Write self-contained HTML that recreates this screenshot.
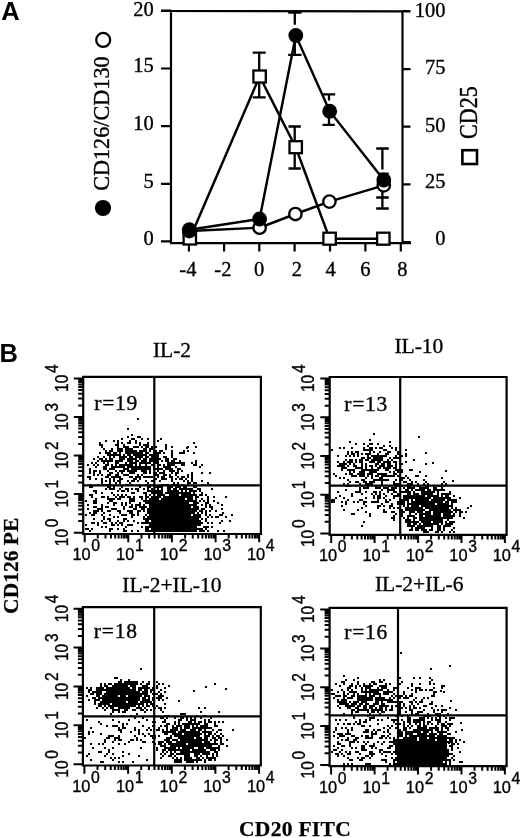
<!DOCTYPE html>
<html><head><meta charset="utf-8"><title>Figure</title>
<style>html,body{margin:0;padding:0;background:#fff;}svg{display:block;}</style></head>
<body><svg width="520" height="838" viewBox="0 0 520 838">
<text x="1.2" y="19.7" font-family="'Liberation Sans',Arial,sans-serif" font-weight="bold" font-size="25.5">A</text>
<path d="M161 10.9L410.5 11.3M171.0 10.8V244.2M402.5 10.8V244.2M171.0 243.2H411M161 10.6H171.0M161 68.5H171.0M161 126.2H171.0M161 183.8H171.0M161 241.4H171.0M402.5 11.2H410.5M402.5 69.2H410.5M402.5 126.7H410.5M402.5 184.4H410.5M402.5 242.0H410.5M188.9 243.2V251.5M224.1 243.2V251.5M259.3 243.2V251.5M294.6 243.2V251.5M330.0 243.2V251.5M365.4 243.2V251.5M400.8 243.2V251.5" stroke="#000" stroke-width="2.2" fill="none"/>
<text x="153.8" y="16.3" text-anchor="end" font-family="'Liberation Serif','Times New Roman',serif" font-size="20.5" stroke="#000" stroke-width="0.35">20</text>
<text x="153.8" y="72.4" text-anchor="end" font-family="'Liberation Serif','Times New Roman',serif" font-size="20.5" stroke="#000" stroke-width="0.35">15</text>
<text x="153.8" y="130.1" text-anchor="end" font-family="'Liberation Serif','Times New Roman',serif" font-size="20.5" stroke="#000" stroke-width="0.35">10</text>
<text x="153.8" y="187.7" text-anchor="end" font-family="'Liberation Serif','Times New Roman',serif" font-size="20.5" stroke="#000" stroke-width="0.35">5</text>
<text x="153.8" y="245.3" text-anchor="end" font-family="'Liberation Serif','Times New Roman',serif" font-size="20.5" stroke="#000" stroke-width="0.35">0</text>
<text x="445.6" y="17.0" text-anchor="end" font-family="'Liberation Serif','Times New Roman',serif" font-size="20.5" stroke="#000" stroke-width="0.35">100</text>
<text x="445.6" y="74.3" text-anchor="end" font-family="'Liberation Serif','Times New Roman',serif" font-size="20.5" stroke="#000" stroke-width="0.35">75</text>
<text x="445.6" y="132.0" text-anchor="end" font-family="'Liberation Serif','Times New Roman',serif" font-size="20.5" stroke="#000" stroke-width="0.35">50</text>
<text x="445.6" y="187.7" text-anchor="end" font-family="'Liberation Serif','Times New Roman',serif" font-size="20.5" stroke="#000" stroke-width="0.35">25</text>
<text x="445.6" y="245.3" text-anchor="end" font-family="'Liberation Serif','Times New Roman',serif" font-size="20.5" stroke="#000" stroke-width="0.35">0</text>
<text x="187.9" y="276.2" text-anchor="middle" font-family="'Liberation Serif','Times New Roman',serif" font-size="20.5" stroke="#000" stroke-width="0.35">-4</text>
<text x="222.9" y="276.2" text-anchor="middle" font-family="'Liberation Serif','Times New Roman',serif" font-size="20.5" stroke="#000" stroke-width="0.35">-2</text>
<text x="259.2" y="276.2" text-anchor="middle" font-family="'Liberation Serif','Times New Roman',serif" font-size="20.5" stroke="#000" stroke-width="0.35">0</text>
<text x="296.9" y="276.2" text-anchor="middle" font-family="'Liberation Serif','Times New Roman',serif" font-size="20.5" stroke="#000" stroke-width="0.35">2</text>
<text x="330.5" y="276.2" text-anchor="middle" font-family="'Liberation Serif','Times New Roman',serif" font-size="20.5" stroke="#000" stroke-width="0.35">4</text>
<text x="365.4" y="276.2" text-anchor="middle" font-family="'Liberation Serif','Times New Roman',serif" font-size="20.5" stroke="#000" stroke-width="0.35">6</text>
<text x="402.3" y="276.2" text-anchor="middle" font-family="'Liberation Serif','Times New Roman',serif" font-size="20.5" stroke="#000" stroke-width="0.35">8</text>
<path d="M259.2 52.6V72M252.7 52.6H265.7M259.2 80V97.3M252.7 97.3H265.7M294.8 12.5V24.8M288.2 12.6H301.5M294.8 40V54.8M288.2 54.8H301.5M294.7 126.5V142M288.5 126.5H300.8M294.7 152V168.5M288.5 168.5H300.8M329.0 94.4V100.5M323.0 94.4H335.2M329.0 116V124.8M322.5 124.8H334.8M382.4 148.5V169.5M376.2 148.5H388.8M382.4 190V208.5M376.2 197.5H388.8M376.2 208.5H388.8" stroke="#000" stroke-width="2.3" fill="none"/>
<path d="M189.8 238.5 L259.6 76.5 L295.7 147.2 L329.6 238.7 L383.3 238.7" stroke="#000" stroke-width="2.45" fill="none"/>
<path d="M189.3 231.0 L259.6 227.7 L295.4 214.0 L329.4 201.6 L383.8 185.4" stroke="#000" stroke-width="2.45" fill="none"/>
<path d="M189.3 229.7 L259.6 219.0 L295.8 35.5 L329.7 111.2 L383.8 180.0" stroke="#000" stroke-width="2.45" fill="none"/>
<rect x="183.60000000000002" y="232.5" width="12.4" height="12.0" fill="#fff" stroke="#000" stroke-width="2.3"/>
<rect x="253.40000000000003" y="70.5" width="12.4" height="12.0" fill="#fff" stroke="#000" stroke-width="2.3"/>
<rect x="289.5" y="141.2" width="12.4" height="12.0" fill="#fff" stroke="#000" stroke-width="2.3"/>
<rect x="323.40000000000003" y="232.7" width="12.4" height="12.0" fill="#fff" stroke="#000" stroke-width="2.3"/>
<rect x="377.1" y="232.7" width="12.4" height="12.0" fill="#fff" stroke="#000" stroke-width="2.3"/>
<circle cx="189.3" cy="231.0" r="6.2" fill="#fff" stroke="#000" stroke-width="2.35"/>
<circle cx="259.6" cy="227.7" r="6.2" fill="#fff" stroke="#000" stroke-width="2.35"/>
<circle cx="295.4" cy="214.0" r="6.2" fill="#fff" stroke="#000" stroke-width="2.35"/>
<circle cx="329.4" cy="201.6" r="6.2" fill="#fff" stroke="#000" stroke-width="2.35"/>
<circle cx="383.8" cy="185.4" r="6.2" fill="#fff" stroke="#000" stroke-width="2.35"/>
<circle cx="189.3" cy="229.7" r="7.4" fill="#000"/>
<circle cx="259.6" cy="219.0" r="7.4" fill="#000"/>
<circle cx="295.8" cy="35.5" r="7.4" fill="#000"/>
<circle cx="329.7" cy="111.2" r="7.4" fill="#000"/>
<circle cx="383.8" cy="180.0" r="7.4" fill="#000"/>
<path d="M378.3 173.4H388.8" stroke="#000" stroke-width="1.6"/>
<text transform="translate(109.4 190.8) rotate(-90)" font-family="'Liberation Serif','Times New Roman',serif" font-size="22.2" stroke="#000" stroke-width="0.35">CD126/CD130</text>
<circle cx="103.2" cy="39.9" r="7" fill="none" stroke="#000" stroke-width="2.2"/>
<circle cx="103" cy="208" r="8.1" fill="#000"/>
<text transform="translate(476.8 138.9) rotate(-90) scale(1,1.1)" font-family="'Liberation Serif','Times New Roman',serif" font-size="22" stroke="#000" stroke-width="0.35">CD25</text>
<rect x="462.4" y="150.2" width="14.6" height="13.8" fill="none" stroke="#000" stroke-width="2.6"/>
<text x="-0.4" y="362.4" font-family="'Liberation Sans',Arial,sans-serif" font-weight="bold" font-size="25.5">B</text>
<text transform="translate(18.3 613.9) rotate(-90)" font-family="'Liberation Serif','Times New Roman',serif" font-weight="bold" font-size="21.5" stroke="#000" stroke-width="0.25">CD126 PE</text>
<text x="239" y="836.3" font-family="'Liberation Serif','Times New Roman',serif" font-weight="bold" font-size="21.5" letter-spacing="0.3" stroke="#000" stroke-width="0.25">CD20 FITC</text>
<path d="M83.2 376.8H260.9V534.0H83.2ZM154.3 376.8V534.0M83.2 485.4H260.9" stroke="#000" stroke-width="2.2" fill="none"/>
<path d="M84.7 534.0v8.2M83.2 532.7h-9.4M97.8 534.0v4.6M83.2 521.1h-5M105.5 534.0v4.6M83.2 514.3h-5M111.0 534.0v4.6M83.2 509.5h-5M115.2 534.0v4.6M83.2 505.7h-5M118.6 534.0v4.6M83.2 502.7h-5M121.6 534.0v4.6M83.2 500.1h-5M124.1 534.0v4.6M83.2 497.9h-5M126.3 534.0v4.6M83.2 495.9h-5M128.3 534.0v8.2M83.2 494.1h-9.4M141.5 534.0v4.6M83.2 482.5h-5M149.1 534.0v4.6M83.2 475.7h-5M154.6 534.0v4.6M83.2 470.9h-5M158.8 534.0v4.6M83.2 467.2h-5M162.3 534.0v4.6M83.2 464.1h-5M165.2 534.0v4.6M83.2 461.5h-5M167.7 534.0v4.6M83.2 459.3h-5M170.0 534.0v4.6M83.2 457.3h-5M171.9 534.0v8.2M83.2 455.6h-9.4M185.1 534.0v4.6M83.2 443.9h-5M192.8 534.0v4.6M83.2 437.1h-5M198.2 534.0v4.6M83.2 432.3h-5M202.4 534.0v4.6M83.2 428.6h-5M205.9 534.0v4.6M83.2 425.5h-5M208.8 534.0v4.6M83.2 423.0h-5M211.3 534.0v4.6M83.2 420.7h-5M213.6 534.0v4.6M83.2 418.7h-5M215.6 534.0v8.2M83.2 417.0h-9.4M228.7 534.0v4.6M83.2 405.4h-5M236.4 534.0v4.6M83.2 398.6h-5M241.8 534.0v4.6M83.2 393.8h-5M246.1 534.0v4.6M83.2 390.0h-5M249.5 534.0v4.6M83.2 387.0h-5M252.4 534.0v4.6M83.2 384.4h-5M255.0 534.0v4.6M83.2 382.1h-5M257.2 534.0v4.6M83.2 380.2h-5M259.2 534.0v8.2M83.2 378.4h-9.4" stroke="#000" stroke-width="2" fill="none"/>
<text x="72.5" y="560.4" font-family="'Liberation Sans',Arial,sans-serif" font-size="16.4" stroke="#000" stroke-width="0.35">10<tspan dx="0.6" dy="-9" font-size="15.8">0</tspan></text>
<text x="116.1" y="560.4" font-family="'Liberation Sans',Arial,sans-serif" font-size="16.4" stroke="#000" stroke-width="0.35">10<tspan dx="0.6" dy="-9" font-size="15.8">1</tspan></text>
<text x="159.8" y="560.4" font-family="'Liberation Sans',Arial,sans-serif" font-size="16.4" stroke="#000" stroke-width="0.35">10<tspan dx="0.6" dy="-9" font-size="15.8">2</tspan></text>
<text x="203.4" y="560.4" font-family="'Liberation Sans',Arial,sans-serif" font-size="16.4" stroke="#000" stroke-width="0.35">10<tspan dx="0.6" dy="-9" font-size="15.8">3</tspan></text>
<text x="247.0" y="560.4" font-family="'Liberation Sans',Arial,sans-serif" font-size="16.4" stroke="#000" stroke-width="0.35">10<tspan dx="0.6" dy="-9" font-size="15.8">4</tspan></text>
<text transform="translate(67.8 546.2) rotate(-90) scale(1,1.18)" font-family="'Liberation Sans',Arial,sans-serif" font-size="15.5" stroke="#000" stroke-width="0.3">10<tspan dx="1.8" dy="-8.2">0</tspan></text>
<text transform="translate(67.8 507.6) rotate(-90) scale(1,1.18)" font-family="'Liberation Sans',Arial,sans-serif" font-size="15.5" stroke="#000" stroke-width="0.3">10<tspan dx="1.8" dy="-8.2">1</tspan></text>
<text transform="translate(67.8 469.1) rotate(-90) scale(1,1.18)" font-family="'Liberation Sans',Arial,sans-serif" font-size="15.5" stroke="#000" stroke-width="0.3">10<tspan dx="1.8" dy="-8.2">2</tspan></text>
<text transform="translate(67.8 430.5) rotate(-90) scale(1,1.18)" font-family="'Liberation Sans',Arial,sans-serif" font-size="15.5" stroke="#000" stroke-width="0.3">10<tspan dx="1.8" dy="-8.2">3</tspan></text>
<text transform="translate(67.8 391.9) rotate(-90) scale(1,1.18)" font-family="'Liberation Sans',Arial,sans-serif" font-size="15.5" stroke="#000" stroke-width="0.3">10<tspan dx="1.8" dy="-8.2">4</tspan></text>
<text x="172.0" y="357.3" text-anchor="middle" font-family="'Liberation Serif','Times New Roman',serif" font-size="21.5" stroke="#000" stroke-width="0.35">IL-2</text>
<text x="94.2" y="410.4" font-family="'Liberation Serif','Times New Roman',serif" font-size="21.5" letter-spacing="0.8" stroke="#000" stroke-width="0.35">r=19</text>
<path d="M329.7 377.0H506.6V534.8H329.7ZM400.2 377.0V534.8M329.7 485.6H506.6" stroke="#000" stroke-width="2.2" fill="none"/>
<path d="M331.2 534.8v8.2M329.7 533.5h-9.4M344.3 534.8v4.6M329.7 521.8h-5M351.9 534.8v4.6M329.7 515.0h-5M357.3 534.8v4.6M329.7 510.2h-5M361.6 534.8v4.6M329.7 506.4h-5M365.0 534.8v4.6M329.7 503.4h-5M367.9 534.8v4.6M329.7 500.8h-5M370.4 534.8v4.6M329.7 498.5h-5M372.6 534.8v4.6M329.7 496.5h-5M374.6 534.8v8.2M329.7 494.8h-9.4M387.7 534.8v4.6M329.7 483.1h-5M395.3 534.8v4.6M329.7 476.3h-5M400.8 534.8v4.6M329.7 471.5h-5M405.0 534.8v4.6M329.7 467.7h-5M408.4 534.8v4.6M329.7 464.6h-5M411.3 534.8v4.6M329.7 462.0h-5M413.8 534.8v4.6M329.7 459.8h-5M416.1 534.8v4.6M329.7 457.8h-5M418.1 534.8v8.2M329.7 456.1h-9.4M431.1 534.8v4.6M329.7 444.4h-5M438.8 534.8v4.6M329.7 437.6h-5M444.2 534.8v4.6M329.7 432.7h-5M448.4 534.8v4.6M329.7 429.0h-5M451.8 534.8v4.6M329.7 425.9h-5M454.7 534.8v4.6M329.7 423.3h-5M457.3 534.8v4.6M329.7 421.1h-5M459.5 534.8v4.6M329.7 419.1h-5M461.5 534.8v8.2M329.7 417.3h-9.4M474.5 534.8v4.6M329.7 405.7h-5M482.2 534.8v4.6M329.7 398.8h-5M487.6 534.8v4.6M329.7 394.0h-5M491.8 534.8v4.6M329.7 390.3h-5M495.3 534.8v4.6M329.7 387.2h-5M498.2 534.8v4.6M329.7 384.6h-5M500.7 534.8v4.6M329.7 382.4h-5M502.9 534.8v4.6M329.7 380.4h-5M504.9 534.8v8.2M329.7 378.6h-9.4" stroke="#000" stroke-width="2" fill="none"/>
<text x="319.0" y="561.2" font-family="'Liberation Sans',Arial,sans-serif" font-size="16.4" stroke="#000" stroke-width="0.35">10<tspan dx="0.6" dy="-9" font-size="15.8">0</tspan></text>
<text x="362.4" y="561.2" font-family="'Liberation Sans',Arial,sans-serif" font-size="16.4" stroke="#000" stroke-width="0.35">10<tspan dx="0.6" dy="-9" font-size="15.8">1</tspan></text>
<text x="405.9" y="561.2" font-family="'Liberation Sans',Arial,sans-serif" font-size="16.4" stroke="#000" stroke-width="0.35">10<tspan dx="0.6" dy="-9" font-size="15.8">2</tspan></text>
<text x="449.3" y="561.2" font-family="'Liberation Sans',Arial,sans-serif" font-size="16.4" stroke="#000" stroke-width="0.35">10<tspan dx="0.6" dy="-9" font-size="15.8">3</tspan></text>
<text x="492.7" y="561.2" font-family="'Liberation Sans',Arial,sans-serif" font-size="16.4" stroke="#000" stroke-width="0.35">10<tspan dx="0.6" dy="-9" font-size="15.8">4</tspan></text>
<text transform="translate(314.3 547.0) rotate(-90) scale(1,1.18)" font-family="'Liberation Sans',Arial,sans-serif" font-size="15.5" stroke="#000" stroke-width="0.3">10<tspan dx="1.8" dy="-8.2">0</tspan></text>
<text transform="translate(314.3 508.3) rotate(-90) scale(1,1.18)" font-family="'Liberation Sans',Arial,sans-serif" font-size="15.5" stroke="#000" stroke-width="0.3">10<tspan dx="1.8" dy="-8.2">1</tspan></text>
<text transform="translate(314.3 469.6) rotate(-90) scale(1,1.18)" font-family="'Liberation Sans',Arial,sans-serif" font-size="15.5" stroke="#000" stroke-width="0.3">10<tspan dx="1.8" dy="-8.2">2</tspan></text>
<text transform="translate(314.3 430.8) rotate(-90) scale(1,1.18)" font-family="'Liberation Sans',Arial,sans-serif" font-size="15.5" stroke="#000" stroke-width="0.3">10<tspan dx="1.8" dy="-8.2">3</tspan></text>
<text transform="translate(314.3 392.1) rotate(-90) scale(1,1.18)" font-family="'Liberation Sans',Arial,sans-serif" font-size="15.5" stroke="#000" stroke-width="0.3">10<tspan dx="1.8" dy="-8.2">4</tspan></text>
<text x="418.9" y="352.8" text-anchor="middle" font-family="'Liberation Serif','Times New Roman',serif" font-size="21.5" stroke="#000" stroke-width="0.35">IL-10</text>
<text x="344.2" y="410.8" font-family="'Liberation Serif','Times New Roman',serif" font-size="21.5" letter-spacing="0.8" stroke="#000" stroke-width="0.35">r=13</text>
<path d="M82.9 607.1H260.8V765.5H82.9ZM154.2 607.1V765.5M82.9 716.4H260.8" stroke="#000" stroke-width="2.2" fill="none"/>
<path d="M84.4 765.5v8.2M82.9 764.2h-9.4M97.5 765.5v4.6M82.9 752.5h-5M105.2 765.5v4.6M82.9 745.7h-5M110.7 765.5v4.6M82.9 740.8h-5M114.9 765.5v4.6M82.9 737.0h-5M118.4 765.5v4.6M82.9 733.9h-5M121.3 765.5v4.6M82.9 731.3h-5M123.8 765.5v4.6M82.9 729.1h-5M126.1 765.5v4.6M82.9 727.1h-5M128.1 765.5v8.2M82.9 725.3h-9.4M141.2 765.5v4.6M82.9 713.6h-5M148.9 765.5v4.6M82.9 706.8h-5M154.4 765.5v4.6M82.9 701.9h-5M158.6 765.5v4.6M82.9 698.2h-5M162.1 765.5v4.6M82.9 695.1h-5M165.0 765.5v4.6M82.9 692.5h-5M167.5 765.5v4.6M82.9 690.2h-5M169.8 765.5v4.6M82.9 688.2h-5M171.8 765.5v8.2M82.9 686.5h-9.4M184.9 765.5v4.6M82.9 674.7h-5M192.6 765.5v4.6M82.9 667.9h-5M198.0 765.5v4.6M82.9 663.0h-5M202.3 765.5v4.6M82.9 659.3h-5M205.7 765.5v4.6M82.9 656.2h-5M208.7 765.5v4.6M82.9 653.6h-5M211.2 765.5v4.6M82.9 651.3h-5M213.4 765.5v4.6M82.9 649.4h-5M215.4 765.5v8.2M82.9 647.6h-9.4M228.6 765.5v4.6M82.9 635.9h-5M236.3 765.5v4.6M82.9 629.0h-5M241.7 765.5v4.6M82.9 624.2h-5M246.0 765.5v4.6M82.9 620.4h-5M249.4 765.5v4.6M82.9 617.3h-5M252.3 765.5v4.6M82.9 614.7h-5M254.9 765.5v4.6M82.9 612.5h-5M257.1 765.5v4.6M82.9 610.5h-5M259.1 765.5v8.2M82.9 608.7h-9.4" stroke="#000" stroke-width="2" fill="none"/>
<text x="72.2" y="791.9" font-family="'Liberation Sans',Arial,sans-serif" font-size="16.4" stroke="#000" stroke-width="0.35">10<tspan dx="0.6" dy="-9" font-size="15.8">0</tspan></text>
<text x="115.9" y="791.9" font-family="'Liberation Sans',Arial,sans-serif" font-size="16.4" stroke="#000" stroke-width="0.35">10<tspan dx="0.6" dy="-9" font-size="15.8">1</tspan></text>
<text x="159.6" y="791.9" font-family="'Liberation Sans',Arial,sans-serif" font-size="16.4" stroke="#000" stroke-width="0.35">10<tspan dx="0.6" dy="-9" font-size="15.8">2</tspan></text>
<text x="203.2" y="791.9" font-family="'Liberation Sans',Arial,sans-serif" font-size="16.4" stroke="#000" stroke-width="0.35">10<tspan dx="0.6" dy="-9" font-size="15.8">3</tspan></text>
<text x="246.9" y="791.9" font-family="'Liberation Sans',Arial,sans-serif" font-size="16.4" stroke="#000" stroke-width="0.35">10<tspan dx="0.6" dy="-9" font-size="15.8">4</tspan></text>
<text transform="translate(67.5 777.7) rotate(-90) scale(1,1.18)" font-family="'Liberation Sans',Arial,sans-serif" font-size="15.5" stroke="#000" stroke-width="0.3">10<tspan dx="1.8" dy="-8.2">0</tspan></text>
<text transform="translate(67.5 738.8) rotate(-90) scale(1,1.18)" font-family="'Liberation Sans',Arial,sans-serif" font-size="15.5" stroke="#000" stroke-width="0.3">10<tspan dx="1.8" dy="-8.2">1</tspan></text>
<text transform="translate(67.5 700.0) rotate(-90) scale(1,1.18)" font-family="'Liberation Sans',Arial,sans-serif" font-size="15.5" stroke="#000" stroke-width="0.3">10<tspan dx="1.8" dy="-8.2">2</tspan></text>
<text transform="translate(67.5 661.1) rotate(-90) scale(1,1.18)" font-family="'Liberation Sans',Arial,sans-serif" font-size="15.5" stroke="#000" stroke-width="0.3">10<tspan dx="1.8" dy="-8.2">3</tspan></text>
<text transform="translate(67.5 622.2) rotate(-90) scale(1,1.18)" font-family="'Liberation Sans',Arial,sans-serif" font-size="15.5" stroke="#000" stroke-width="0.3">10<tspan dx="1.8" dy="-8.2">4</tspan></text>
<text x="171.9" y="592.0" text-anchor="middle" font-family="'Liberation Serif','Times New Roman',serif" font-size="21.5" stroke="#000" stroke-width="0.35">IL-2+IL-10</text>
<text x="93.8" y="638.1" font-family="'Liberation Serif','Times New Roman',serif" font-size="21.5" letter-spacing="0.8" stroke="#000" stroke-width="0.35">r=18</text>
<path d="M329.6 607.9H506.6V766.2H329.6ZM398.0 607.9V766.2M329.6 715.3H506.6" stroke="#000" stroke-width="2.2" fill="none"/>
<path d="M331.1 766.2v8.2M329.6 764.9h-9.4M344.2 766.2v4.6M329.6 753.2h-5M351.8 766.2v4.6M329.6 746.4h-5M357.3 766.2v4.6M329.6 741.5h-5M361.5 766.2v4.6M329.6 737.7h-5M364.9 766.2v4.6M329.6 734.7h-5M367.8 766.2v4.6M329.6 732.1h-5M370.3 766.2v4.6M329.6 729.8h-5M372.6 766.2v4.6M329.6 727.8h-5M374.6 766.2v8.2M329.6 726.1h-9.4M387.6 766.2v4.6M329.6 714.4h-5M395.3 766.2v4.6M329.6 707.5h-5M400.7 766.2v4.6M329.6 702.7h-5M404.9 766.2v4.6M329.6 698.9h-5M408.4 766.2v4.6M329.6 695.8h-5M411.3 766.2v4.6M329.6 693.2h-5M413.8 766.2v4.6M329.6 691.0h-5M416.0 766.2v4.6M329.6 689.0h-5M418.0 766.2v8.2M329.6 687.2h-9.4M431.1 766.2v4.6M329.6 675.5h-5M438.7 766.2v4.6M329.6 668.7h-5M444.2 766.2v4.6M329.6 663.8h-5M448.4 766.2v4.6M329.6 660.0h-5M451.8 766.2v4.6M329.6 657.0h-5M454.7 766.2v4.6M329.6 654.4h-5M457.2 766.2v4.6M329.6 652.1h-5M459.5 766.2v4.6M329.6 650.1h-5M461.5 766.2v8.2M329.6 648.4h-9.4M474.5 766.2v4.6M329.6 636.7h-5M482.2 766.2v4.6M329.6 629.8h-5M487.6 766.2v4.6M329.6 625.0h-5M491.8 766.2v4.6M329.6 621.2h-5M495.3 766.2v4.6M329.6 618.1h-5M498.2 766.2v4.6M329.6 615.5h-5M500.7 766.2v4.6M329.6 613.3h-5M502.9 766.2v4.6M329.6 611.3h-5M504.9 766.2v8.2M329.6 609.5h-9.4" stroke="#000" stroke-width="2" fill="none"/>
<text x="318.9" y="792.6" font-family="'Liberation Sans',Arial,sans-serif" font-size="16.4" stroke="#000" stroke-width="0.35">10<tspan dx="0.6" dy="-9" font-size="15.8">0</tspan></text>
<text x="362.4" y="792.6" font-family="'Liberation Sans',Arial,sans-serif" font-size="16.4" stroke="#000" stroke-width="0.35">10<tspan dx="0.6" dy="-9" font-size="15.8">1</tspan></text>
<text x="405.8" y="792.6" font-family="'Liberation Sans',Arial,sans-serif" font-size="16.4" stroke="#000" stroke-width="0.35">10<tspan dx="0.6" dy="-9" font-size="15.8">2</tspan></text>
<text x="449.3" y="792.6" font-family="'Liberation Sans',Arial,sans-serif" font-size="16.4" stroke="#000" stroke-width="0.35">10<tspan dx="0.6" dy="-9" font-size="15.8">3</tspan></text>
<text x="492.7" y="792.6" font-family="'Liberation Sans',Arial,sans-serif" font-size="16.4" stroke="#000" stroke-width="0.35">10<tspan dx="0.6" dy="-9" font-size="15.8">4</tspan></text>
<text transform="translate(314.2 778.4) rotate(-90) scale(1,1.18)" font-family="'Liberation Sans',Arial,sans-serif" font-size="15.5" stroke="#000" stroke-width="0.3">10<tspan dx="1.8" dy="-8.2">0</tspan></text>
<text transform="translate(314.2 739.6) rotate(-90) scale(1,1.18)" font-family="'Liberation Sans',Arial,sans-serif" font-size="15.5" stroke="#000" stroke-width="0.3">10<tspan dx="1.8" dy="-8.2">1</tspan></text>
<text transform="translate(314.2 700.7) rotate(-90) scale(1,1.18)" font-family="'Liberation Sans',Arial,sans-serif" font-size="15.5" stroke="#000" stroke-width="0.3">10<tspan dx="1.8" dy="-8.2">2</tspan></text>
<text transform="translate(314.2 661.9) rotate(-90) scale(1,1.18)" font-family="'Liberation Sans',Arial,sans-serif" font-size="15.5" stroke="#000" stroke-width="0.3">10<tspan dx="1.8" dy="-8.2">3</tspan></text>
<text transform="translate(314.2 623.0) rotate(-90) scale(1,1.18)" font-family="'Liberation Sans',Arial,sans-serif" font-size="15.5" stroke="#000" stroke-width="0.3">10<tspan dx="1.8" dy="-8.2">4</tspan></text>
<text x="419.2" y="590.8" text-anchor="middle" font-family="'Liberation Serif','Times New Roman',serif" font-size="21.5" stroke="#000" stroke-width="0.35">IL-2+IL-6</text>
<text x="344.2" y="638.5" font-family="'Liberation Serif','Times New Roman',serif" font-size="21.5" letter-spacing="0.8" stroke="#000" stroke-width="0.35">r=16</text>
<path d="M127 429h2M131 435h2M127 437h2M137 437h4M121 439h2M131 439h4M141 439h2M147 439h2M105 441h2M113 441h2M117 441h2M129 441h2M135 441h2M157 441h2M99 443h2M117 443h2M121 443h2M127 443h4M135 443h2M139 443h2M147 443h2M193 443h2M99 445h4M115 445h4M123 445h2M139 445h2M143 445h6M165 445h2M101 447h2M117 447h2M123 447h6M133 447h6M141 447h2M145 447h4M151 447h2M155 447h2M165 447h2M171 447h2M187 447h2M195 447h2M103 449h2M111 449h2M117 449h6M125 449h8M143 449h4M149 449h4M165 449h2M105 451h2M109 451h4M117 451h6M125 451h12M139 451h8M149 451h2M153 451h4M159 451h4M171 451h2M183 451h2M187 451h2M99 453h2M105 453h6M113 453h4M119 453h2M125 453h18M145 453h4M153 453h8M163 453h2M171 453h2M179 453h6M193 453h2M107 455h14M123 455h2M127 455h4M133 455h14M149 455h10M171 455h2M97 457h2M103 457h2M109 457h2M113 457h2M119 457h8M129 457h4M135 457h8M145 457h4M151 457h8M163 457h4M171 457h2M93 459h2M99 459h4M105 459h2M109 459h4M119 459h6M127 459h10M139 459h2M143 459h4M149 459h12M165 459h4M173 459h4M97 461h2M101 461h12M115 461h8M127 461h6M135 461h4M141 461h6M149 461h10M161 461h2M165 461h4M171 461h4M179 461h2M195 461h2M91 463h2M95 463h2M103 463h2M107 463h2M115 463h4M125 463h2M129 463h8M139 463h12M153 463h6M167 463h18M191 463h2M195 463h2M87 465h2M93 465h2M97 465h2M105 465h4M111 465h2M115 465h2M119 465h14M135 465h2M139 465h2M145 465h2M151 465h4M157 465h4M163 465h2M167 465h8M181 465h4M193 465h4M201 465h2M95 467h2M103 467h4M111 467h14M127 467h24M153 467h2M157 467h2M163 467h8M175 467h2M199 467h2M89 469h2M103 469h4M109 469h6M123 469h6M131 469h20M153 469h10M165 469h8M177 469h4M89 471h2M93 471h4M99 471h2M107 471h2M115 471h2M119 471h6M127 471h10M141 471h6M149 471h2M157 471h2M163 471h2M169 471h6M177 471h2M181 471h2M89 473h2M93 473h2M99 473h2M109 473h4M117 473h2M121 473h2M129 473h6M143 473h4M149 473h2M153 473h4M159 473h6M171 473h2M175 473h4M191 473h2M201 473h2M209 473h2M93 475h2M97 475h2M101 475h2M107 475h4M115 475h4M123 475h6M137 475h2M141 475h2M155 475h4M163 475h4M169 475h2M175 475h2M187 475h2M191 475h2M87 477h4M105 477h4M111 477h10M129 477h4M135 477h6M143 477h10M157 477h2M161 477h4M169 477h4M177 477h2M181 477h4M187 477h2M191 477h2M89 479h2M95 479h2M101 479h2M109 479h2M113 479h2M119 479h4M133 479h4M139 479h2M155 479h2M161 479h6M171 479h2M175 479h2M179 479h4M185 479h2M191 479h2M101 481h2M105 481h2M109 481h2M113 481h2M117 481h4M127 481h2M131 481h4M137 481h2M145 481h2M151 481h4M159 481h2M171 481h2M183 481h2M187 481h2M191 481h2M201 481h2M101 483h2M109 483h2M115 483h2M119 483h2M129 483h2M147 483h2M173 483h2M177 483h2M187 483h4M193 483h4M207 483h2M89 485h2M97 485h2M103 485h8M115 485h2M125 485h4M131 485h2M139 485h2M145 485h2M149 485h2M153 485h2M161 485h8M171 485h8M181 485h2M187 485h2M203 485h2M209 485h2M89 487h4M107 487h4M113 487h2M121 487h2M139 487h2M147 487h4M155 487h8M167 487h6M175 487h6M183 487h4M193 487h4M105 489h2M109 489h6M119 489h2M125 489h4M131 489h2M135 489h4M143 489h2M147 489h2M151 489h2M157 489h2M161 489h2M167 489h4M173 489h4M179 489h14M197 489h4M211 489h2M93 491h4M117 491h2M121 491h4M127 491h2M137 491h2M147 491h16M167 491h12M181 491h2M185 491h2M189 491h8M199 491h2M95 493h2M101 493h2M111 493h2M131 493h4M143 493h4M151 493h12M165 493h26M193 493h2M201 493h2M89 495h4M113 495h2M117 495h2M121 495h2M125 495h2M145 495h2M149 495h2M153 495h2M157 495h8M169 495h10M181 495h16M199 495h4M205 495h2M91 497h2M101 497h4M107 497h2M115 497h2M119 497h6M127 497h4M133 497h2M139 497h4M145 497h4M151 497h10M163 497h30M195 497h4M207 497h2M213 497h2M225 497h2M95 499h2M107 499h8M117 499h4M129 499h6M141 499h2M145 499h2M149 499h10M161 499h24M187 499h6M195 499h2M201 499h2M207 499h2M85 501h2M93 501h4M109 501h4M129 501h6M143 501h54M199 501h2M203 501h2M207 501h2M93 503h4M107 503h2M113 503h4M121 503h2M125 503h2M129 503h2M139 503h2M145 503h44M193 503h6M205 503h4M217 503h2M87 505h2M101 505h2M113 505h2M121 505h2M125 505h2M131 505h2M135 505h6M143 505h2M149 505h48M201 505h2M205 505h2M209 505h2M221 505h2M93 507h4M101 507h2M105 507h4M123 507h2M129 507h4M135 507h2M139 507h8M149 507h42M193 507h6M205 507h2M209 507h4M87 509h2M97 509h6M111 509h6M123 509h2M133 509h4M141 509h4M147 509h52M201 509h4M211 509h2M221 509h2M93 511h6M101 511h2M107 511h4M117 511h4M127 511h6M137 511h4M143 511h2M147 511h50M199 511h4M205 511h2M209 511h2M215 511h2M89 513h2M93 513h4M103 513h2M119 513h2M129 513h4M137 513h2M147 513h48M197 513h2M201 513h2M205 513h2M85 515h2M91 515h4M101 515h2M109 515h2M121 515h6M131 515h4M137 515h2M145 515h2M149 515h42M193 515h8M205 515h2M209 515h2M219 515h4M231 515h2M103 517h2M113 517h2M117 517h2M131 517h2M143 517h2M147 517h54M207 517h2M211 517h2M215 517h4M225 517h2M93 519h2M103 519h2M107 519h4M123 519h4M143 519h56M201 519h2M205 519h2M101 521h2M109 521h2M117 521h2M123 521h2M127 521h2M133 521h2M145 521h4M151 521h50M205 521h2M221 521h2M91 523h4M97 523h2M103 523h4M111 523h2M115 523h2M119 523h4M137 523h2M141 523h62M207 523h2M211 523h2M219 523h2M85 525h2M97 525h2M111 525h4M117 525h2M121 525h2M127 525h6M149 525h52M101 527h2M105 527h2M125 527h2M141 527h2M145 527h52M203 527h6M211 527h2M85 529h4M91 529h2M109 529h4M117 529h2M123 529h2M145 529h4M151 529h52M205 529h2M89 531h2M109 531h2M123 531h4M131 531h2M137 531h2M145 531h52M199 531h6M207 531h2M217 531h2M223 531h2M137 419h2M222 513h2M229 521h2M213 501h2M186 448h2M160 439h2" stroke="#000" stroke-width="2" fill="none"/>
<path d="M373 434h2M369 440h2M349 442h2M389 442h2M355 444h2M363 444h2M369 444h4M377 444h2M367 446h2M383 446h2M389 446h2M339 448h2M343 448h2M351 448h2M363 448h2M369 448h4M375 448h2M379 448h4M391 448h2M395 448h2M331 450h2M363 450h10M383 450h4M395 450h2M405 450h2M347 452h2M351 452h2M355 452h4M369 452h2M373 452h2M379 452h2M387 452h4M397 452h4M347 454h2M351 454h4M357 454h2M361 454h2M365 454h6M377 454h2M385 454h4M397 454h2M405 454h2M337 456h2M345 456h2M349 456h2M353 456h2M357 456h2M367 456h2M371 456h16M395 456h2M401 456h2M405 456h2M361 458h4M367 458h4M373 458h10M389 458h2M393 458h8M345 460h2M349 460h4M355 460h2M359 460h4M365 460h4M371 460h12M387 460h2M391 460h2M399 460h2M413 460h2M337 462h2M343 462h2M347 462h6M355 462h2M359 462h4M369 462h6M377 462h4M383 462h8M393 462h4M405 462h2M339 464h8M349 464h2M353 464h2M361 464h2M365 464h2M375 464h4M381 464h4M387 464h4M395 464h2M399 464h4M425 464h2M337 466h8M347 466h2M353 466h4M361 466h2M365 466h2M369 466h4M375 466h2M379 466h6M387 466h6M395 466h2M341 468h6M355 468h8M365 468h2M371 468h2M377 468h4M383 468h8M393 468h4M341 470h2M347 470h8M361 470h18M385 470h4M395 470h8M409 470h4M349 472h2M353 472h2M359 472h6M369 472h8M389 472h2M393 472h2M397 472h2M401 472h2M419 472h2M333 474h2M345 474h2M349 474h4M357 474h8M367 474h6M377 474h10M393 474h4M335 476h2M351 476h6M359 476h6M367 476h2M371 476h2M375 476h4M381 476h14M397 476h2M405 476h2M415 476h4M425 476h2M339 478h2M343 478h2M365 478h2M371 478h2M379 478h4M399 478h6M407 478h2M441 478h2M347 480h2M361 480h4M373 480h16M395 480h2M399 480h4M409 480h2M423 480h2M349 482h2M355 482h4M363 482h4M369 482h6M381 482h2M393 482h2M403 482h4M411 482h2M415 482h2M425 482h2M443 482h2M343 484h2M347 484h2M359 484h2M365 484h8M381 484h2M393 484h8M407 484h6M417 484h2M423 484h2M427 484h2M441 484h2M445 484h2M345 486h6M355 486h2M361 486h2M367 486h2M375 486h2M379 486h2M389 486h2M395 486h8M407 486h4M413 486h2M417 486h4M425 486h4M433 486h2M437 486h4M443 486h2M359 488h2M363 488h6M375 488h6M383 488h6M391 488h6M399 488h2M403 488h2M407 488h8M419 488h10M433 488h4M441 488h2M345 490h2M359 490h2M381 490h2M387 490h8M399 490h2M405 490h4M411 490h2M415 490h10M427 490h4M433 490h12M337 492h2M355 492h6M365 492h2M373 492h4M379 492h2M387 492h2M393 492h4M401 492h10M413 492h2M421 492h14M437 492h2M449 492h2M351 494h2M361 494h2M371 494h2M375 494h2M379 494h2M383 494h2M391 494h2M397 494h4M407 494h4M413 494h6M421 494h12M437 494h2M441 494h10M339 496h2M351 496h2M373 496h2M377 496h4M385 496h2M393 496h8M403 496h22M427 496h12M441 496h2M445 496h4M453 496h2M335 498h2M343 498h2M365 498h2M373 498h2M377 498h4M383 498h2M393 498h2M403 498h28M433 498h18M459 498h2M331 500h4M347 500h2M359 500h4M377 500h2M385 500h2M389 500h2M399 500h10M411 500h2M415 500h14M431 500h14M447 500h10M331 502h4M341 502h2M345 502h2M353 502h2M357 502h2M363 502h4M371 502h8M385 502h4M397 502h8M407 502h2M411 502h32M445 502h4M451 502h6M345 504h2M363 504h2M381 504h2M391 504h2M397 504h2M401 504h4M407 504h28M437 504h12M451 504h2M341 506h2M365 506h2M377 506h4M383 506h2M389 506h4M403 506h2M407 506h2M411 506h8M421 506h32M361 508h2M377 508h2M389 508h2M393 508h2M397 508h2M405 508h18M425 508h24M451 508h2M455 508h2M467 508h2M343 510h2M357 510h2M383 510h2M399 510h4M405 510h20M429 510h22M453 510h8M365 512h2M383 512h4M391 512h4M399 512h6M409 512h6M417 512h6M425 512h6M433 512h20M455 512h2M459 512h4M465 512h2M351 514h4M369 514h2M395 514h2M401 514h2M409 514h2M415 514h2M419 514h12M433 514h8M443 514h8M453 514h2M459 514h2M369 516h2M393 516h2M401 516h2M407 516h8M419 516h4M425 516h16M443 516h12M459 516h2M391 518h4M403 518h2M407 518h2M413 518h4M419 518h34M463 518h2M393 520h2M405 520h6M413 520h2M419 520h24M447 520h2M363 522h2M405 522h14M421 522h10M433 522h10M445 522h2M449 522h6M407 524h4M413 524h4M419 524h2M423 524h16M441 524h2M445 524h8M361 526h2M407 526h8M417 526h16M437 526h4M443 526h8M411 528h2M415 528h10M431 528h2M437 528h4M443 528h2M453 528h2M409 530h4M415 530h4M421 530h6M429 530h4M437 530h4M443 530h2M451 530h2M423 532h6M435 532h4M441 532h2M449 532h2M453 532h2M418 437h2M425 453h2M432 463h2M445 471h2M452 481h2M470 506h2" stroke="#000" stroke-width="2" fill="none"/>
<path d="M114 678h4M120 680h2M128 680h2M118 682h4M124 682h14M142 682h2M148 682h2M156 682h2M100 684h2M104 684h2M108 684h4M114 684h24M140 684h2M146 684h4M158 684h2M162 684h2M100 686h2M104 686h4M112 686h16M130 686h6M142 686h6M156 686h2M168 686h2M86 688h2M90 688h2M96 688h8M106 688h24M132 688h4M138 688h12M152 688h2M156 688h2M164 688h2M88 690h4M96 690h40M138 690h4M144 690h4M150 690h4M160 690h2M88 692h2M92 692h10M106 692h34M142 692h6M150 692h2M158 692h2M164 692h2M90 694h4M96 694h6M104 694h44M152 694h6M160 694h2M86 696h2M96 696h4M102 696h16M120 696h6M128 696h14M144 696h6M158 696h6M92 698h4M98 698h42M142 698h4M148 698h2M152 698h2M156 698h6M166 698h2M88 700h2M94 700h6M102 700h38M142 700h8M152 700h2M158 700h2M162 700h2M94 702h2M100 702h26M128 702h10M140 702h12M94 704h2M98 704h12M112 704h32M146 704h2M150 704h4M164 704h2M98 706h4M104 706h2M108 706h28M138 706h2M142 706h2M146 706h4M152 706h2M156 706h2M96 708h2M102 708h2M106 708h2M110 708h4M118 708h12M136 708h6M144 708h2M154 708h2M158 708h4M164 708h2M198 708h2M204 708h2M104 710h2M112 710h8M124 710h4M132 710h4M140 710h4M146 710h2M150 710h2M160 710h2M112 712h2M118 712h2M122 712h4M144 712h2M162 712h2M200 712h2M218 712h2M110 714h2M136 714h2M180 714h6M122 716h2M130 716h2M164 716h6M196 716h2M204 716h2M134 718h2M142 718h2M160 718h4M166 718h2M174 718h2M180 718h4M186 718h2M190 718h2M194 718h2M200 718h2M210 718h2M86 720h2M112 720h2M128 720h2M146 720h2M164 720h2M178 720h4M186 720h2M190 720h6M204 720h2M208 720h2M98 722h2M118 722h2M138 722h2M152 722h4M162 722h4M174 722h2M178 722h2M188 722h4M194 722h2M198 722h4M204 722h2M208 722h4M214 722h2M218 722h2M222 722h2M100 724h2M122 724h2M126 724h2M166 724h4M174 724h2M178 724h2M182 724h18M204 724h4M214 724h2M106 726h2M112 726h6M122 726h2M142 726h2M152 726h2M160 726h2M164 726h4M172 726h2M176 726h6M184 726h6M192 726h2M196 726h2M200 726h8M214 726h4M90 728h2M118 728h2M122 728h4M134 728h2M148 728h2M158 728h2M166 728h2M172 728h6M180 728h2M184 728h6M192 728h20M118 730h4M134 730h2M138 730h2M146 730h2M150 730h2M156 730h4M162 730h2M166 730h2M170 730h8M180 730h6M190 730h6M198 730h4M204 730h2M212 730h2M218 730h4M232 730h2M88 732h2M92 732h2M120 732h2M130 732h2M138 732h2M162 732h14M178 732h22M202 732h10M216 732h2M88 734h2M100 734h2M138 734h2M142 734h2M148 734h2M164 734h4M172 734h10M184 734h18M204 734h2M208 734h4M214 734h2M220 734h2M108 736h6M118 736h2M134 736h2M144 736h2M150 736h6M158 736h2M170 736h2M174 736h26M204 736h6M212 736h2M216 736h4M222 736h2M84 738h2M106 738h4M114 738h6M136 738h2M152 738h4M166 738h6M178 738h16M196 738h6M204 738h4M212 738h4M218 738h4M104 740h2M114 740h2M118 740h4M130 740h4M136 740h2M140 740h2M164 740h6M172 740h6M180 740h28M210 740h2M214 740h4M220 740h2M226 740h2M104 742h2M112 742h2M128 742h2M142 742h4M152 742h2M158 742h6M166 742h6M176 742h26M204 742h6M214 742h2M220 742h2M90 744h2M98 744h2M102 744h2M118 744h2M124 744h2M154 744h2M158 744h4M164 744h2M168 744h18M188 744h30M220 744h4M160 746h6M170 746h42M218 746h2M226 746h2M92 748h2M104 748h2M112 748h2M140 748h2M156 748h2M164 748h12M178 748h2M182 748h12M198 748h6M206 748h14M108 750h2M156 750h2M162 750h4M168 750h22M192 750h14M210 750h6M218 750h2M98 752h4M108 752h2M122 752h2M162 752h2M166 752h2M170 752h2M174 752h2M180 752h30M214 752h4M88 754h2M106 754h2M112 754h2M128 754h2M160 754h2M164 754h2M170 754h4M176 754h14M194 754h6M202 754h8M212 754h2M216 754h2M86 756h2M104 756h2M122 756h2M138 756h2M162 756h2M168 756h4M174 756h2M184 756h6M194 756h4M200 756h2M206 756h2M212 756h2M216 756h2M110 758h2M114 758h2M118 758h2M160 758h2M172 758h2M176 758h2M180 758h2M184 758h8M196 758h4M202 758h2M206 758h10M90 760h2M112 760h2M146 760h2M174 760h8M184 760h18M204 760h2M208 760h4M214 760h2M100 762h4M118 762h2M122 762h2M132 762h2M174 762h8M186 762h8M196 762h2M204 762h2M193 691h2M205 687h2M214 684h2M225 689h2M178 701h2M140 669h2" stroke="#000" stroke-width="2" fill="none"/>
<path d="M449 666h2M343 676h2M357 678h2M399 678h2M413 678h2M419 678h2M429 678h2M345 680h2M353 680h2M379 680h2M383 680h2M431 680h2M341 682h4M357 682h2M371 682h4M379 682h4M401 682h2M429 682h2M335 684h2M343 684h2M351 684h2M357 684h2M363 684h2M369 684h2M373 684h4M385 684h2M389 684h2M399 684h2M411 684h2M419 684h2M429 684h2M433 684h2M339 686h2M349 686h4M355 686h2M359 686h2M363 686h10M379 686h8M411 686h2M441 686h4M347 688h4M355 688h2M361 688h2M365 688h6M377 688h2M381 688h6M393 688h6M407 688h2M415 688h6M433 688h2M441 688h2M331 690h2M341 690h2M347 690h2M351 690h2M361 690h2M365 690h2M369 690h14M387 690h2M393 690h2M411 690h2M415 690h2M419 690h4M425 690h2M429 690h4M337 692h2M343 692h2M349 692h8M361 692h18M383 692h10M403 692h2M415 692h2M433 692h4M443 692h2M331 694h4M343 694h2M347 694h2M353 694h2M357 694h2M365 694h2M369 694h2M373 694h8M383 694h6M393 694h2M397 694h2M403 694h2M411 694h2M433 694h2M335 696h6M343 696h4M351 696h4M357 696h10M369 696h6M379 696h2M391 696h2M395 696h8M405 696h2M409 696h4M431 696h4M333 698h2M343 698h2M347 698h6M357 698h16M375 698h10M389 698h2M393 698h2M399 698h2M403 698h6M415 698h2M423 698h2M427 698h2M337 700h2M341 700h6M357 700h16M375 700h18M413 700h2M421 700h2M337 702h10M349 702h2M353 702h6M361 702h6M375 702h4M381 702h2M387 702h16M409 702h4M415 702h2M419 702h4M431 702h2M339 704h10M351 704h6M359 704h4M365 704h4M373 704h6M381 704h4M399 704h2M403 704h2M411 704h2M417 704h2M429 704h4M337 706h2M345 706h10M357 706h4M363 706h4M369 706h6M379 706h10M391 706h2M395 706h2M399 706h2M403 706h2M409 706h2M413 706h2M423 706h4M435 706h2M441 706h2M339 708h2M347 708h4M355 708h4M363 708h4M369 708h4M375 708h2M379 708h4M385 708h2M391 708h2M397 708h6M405 708h2M409 708h2M413 708h4M419 708h2M431 708h2M449 708h2M351 710h4M357 710h12M371 710h12M385 710h2M389 710h4M399 710h2M409 710h4M423 710h2M433 710h2M437 710h2M441 710h6M455 710h2M351 712h2M355 712h4M367 712h2M371 712h4M377 712h2M381 712h4M397 712h4M405 712h2M411 712h2M417 712h6M433 712h2M441 712h2M343 714h2M351 714h2M369 714h2M379 714h2M399 714h2M411 714h2M415 714h4M427 714h2M435 714h6M447 714h2M353 716h2M367 716h2M373 716h2M395 716h4M401 716h2M407 716h2M423 716h8M437 716h4M443 716h2M353 718h2M369 718h6M387 718h2M407 718h4M419 718h6M427 718h2M431 718h2M435 718h2M439 718h2M445 718h2M449 718h6M335 720h2M339 720h2M345 720h2M359 720h2M365 720h2M369 720h2M377 720h2M381 720h2M391 720h6M401 720h2M407 720h4M413 720h12M431 720h2M435 720h6M449 720h2M355 722h2M359 722h2M363 722h4M393 722h2M403 722h2M407 722h4M413 722h8M423 722h2M427 722h4M437 722h4M445 722h2M337 724h2M343 724h2M347 724h4M353 724h2M357 724h4M377 724h2M395 724h2M399 724h2M403 724h2M409 724h2M415 724h2M419 724h2M423 724h2M427 724h2M431 724h2M437 724h2M441 724h4M447 724h6M361 726h4M369 726h2M387 726h2M391 726h2M403 726h2M407 726h2M411 726h2M417 726h4M423 726h4M435 726h2M441 726h6M449 726h2M335 728h2M341 728h2M345 728h2M351 728h2M383 728h2M389 728h2M395 728h4M403 728h4M409 728h2M417 728h10M429 728h10M441 728h2M445 728h4M335 730h2M347 730h2M351 730h2M365 730h4M373 730h2M377 730h4M387 730h2M397 730h4M403 730h4M413 730h20M435 730h4M441 730h2M447 730h2M461 730h2M333 732h2M347 732h2M363 732h6M371 732h2M375 732h2M383 732h2M387 732h2M399 732h4M405 732h16M423 732h6M431 732h2M437 732h10M455 732h2M337 734h6M345 734h6M371 734h6M389 734h2M399 734h4M405 734h8M417 734h10M429 734h8M439 734h4M447 734h4M333 736h2M339 736h6M351 736h4M361 736h2M365 736h4M371 736h2M381 736h4M387 736h2M399 736h4M405 736h2M409 736h26M437 736h10M337 738h2M347 738h2M355 738h4M365 738h8M379 738h4M385 738h2M389 738h2M393 738h2M403 738h14M419 738h8M429 738h26M341 740h2M345 740h4M353 740h4M393 740h24M419 740h16M437 740h10M449 740h4M455 740h2M459 740h2M337 742h2M349 742h6M357 742h2M363 742h2M367 742h2M377 742h2M383 742h2M389 742h64M455 742h2M463 742h2M337 744h4M349 744h2M365 744h2M373 744h2M381 744h2M393 744h54M451 744h4M457 744h2M333 746h2M341 746h4M349 746h2M361 746h4M369 746h6M389 746h4M395 746h52M449 746h4M337 748h2M351 748h2M355 748h2M361 748h4M371 748h2M375 748h2M387 748h4M395 748h52M451 748h2M457 748h2M333 750h4M341 750h2M361 750h6M379 750h4M395 750h54M451 750h2M331 752h2M339 752h2M345 752h2M349 752h2M355 752h4M369 752h4M379 752h2M383 752h8M393 752h56M459 752h2M335 754h4M341 754h2M347 754h4M359 754h2M369 754h6M381 754h2M391 754h2M395 754h58M337 756h2M343 756h2M365 756h4M371 756h2M385 756h2M397 756h52M453 756h2M347 758h2M357 758h2M361 758h4M369 758h2M391 758h2M395 758h52M451 758h2M349 760h4M359 760h4M381 760h6M393 760h58M453 760h2M385 762h2M393 762h2M397 762h46M445 762h2M449 762h2M459 762h4M343 764h2M347 764h2M351 764h2M365 764h6M389 764h2M393 764h54M449 764h2M400 653h2M430 669h2M440 691h2M450 701h2M460 723h2M448 743h2" stroke="#000" stroke-width="2" fill="none"/>
</svg></body></html>
